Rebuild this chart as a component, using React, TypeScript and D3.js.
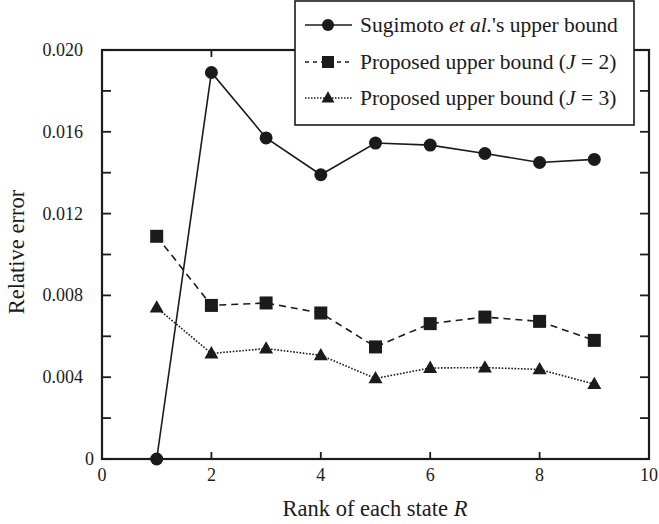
import React from 'react';
import * as d3 from 'd3';

const ranks = [1, 2, 3, 4, 5, 6, 7, 8, 9];
const sugimoto = [0, 0.0189, 0.0157, 0.0139, 0.01545, 0.01535, 0.01494, 0.0145, 0.01465];
const proposedJ2 = [0.01089, 0.00751, 0.00763, 0.00714, 0.00548, 0.00662, 0.00694, 0.00673, 0.0058];
const proposedJ3 = [0.0074, 0.00516, 0.0054, 0.00507, 0.00394, 0.00445, 0.00447, 0.00438, 0.00366];
const xTicks = [0, 2, 4, 6, 8, 10];
const yTicks = [0, 0.004, 0.008, 0.012, 0.016, 0.02];
const yMinorTicks = [0.002, 0.006, 0.01, 0.014, 0.018];

const W = 659;
const H = 524;
const left = 102;
const right = 649;
const top = 50;
const bottom = 459;
const ink = '#1c1a1b';
const font = "'Liberation Serif', 'Times New Roman', Times, 'DejaVu Serif', serif";

export default function App() {
  const x = d3.scaleLinear().domain([0, 10]).range([left, right]);
  const y = d3.scaleLinear().domain([0, 0.02]).range([bottom, top]);
  const line = d3
    .line<number>()
    .x((_, i) => x(ranks[i]))
    .y((d) => y(d));

  const tri = (cx: number, cy: number, s = 14) => {
    const h = s * 0.88;
    return `M${cx},${cy - h * 0.6} L${cx + s / 2},${cy + h * 0.4} L${cx - s / 2},${cy + h * 0.4} Z`;
  };

  const yAll = [...yTicks, ...yMinorTicks];
  const legendRows = [25, 62, 98];
  const txt = { fontFamily: font, fill: ink } as React.CSSProperties;

  return (
    <svg
      width={W}
      height={H}
      style={{ position: 'absolute', left: 0, top: 0, background: '#fff', fontFamily: font }}
    >
      <rect x={0} y={0} width={W} height={H} fill="#fff" />
      {/* series */}
      <path d={line(sugimoto) || ''} fill="none" stroke={ink} strokeWidth={1.6} />
      <path d={line(proposedJ2) || ''} fill="none" stroke={ink} strokeWidth={1.6} strokeDasharray="7,5" />
      <path d={line(proposedJ3) || ''} fill="none" stroke={ink} strokeWidth={1.6} strokeDasharray="1.6,1.6" />

      {/* frame */}
      <rect x={left} y={top} width={right - left} height={bottom - top} fill="none" stroke={ink} strokeWidth={2.2} />
      {yAll.map((t) => (
        <g key={'y' + t}>
          <line x1={left} x2={left + 9} y1={y(t)} y2={y(t)} stroke={ink} strokeWidth={1.8} />
          <line x1={right} x2={right - 9} y1={y(t)} y2={y(t)} stroke={ink} strokeWidth={1.8} />
        </g>
      ))}
      {xTicks.slice(1, -1).map((t) => (
        <g key={'x' + t}>
          <line x1={x(t)} x2={x(t)} y1={bottom} y2={bottom - 7} stroke={ink} strokeWidth={1.8} />
          <line x1={x(t)} x2={x(t)} y1={top} y2={top + 7} stroke={ink} strokeWidth={1.8} />
        </g>
      ))}
      {yTicks.map((t) => (
        <text
          key={'yl' + t}
          x={t === 0 ? left - 8 : left - 19}
          y={y(t) + 6}
          textAnchor="end"
          fontSize={18}
          style={txt}
        >
          {t === 0 ? '0' : t.toFixed(3)}
        </text>
      ))}
      {xTicks.map((t) => (
        <text key={'xl' + t} x={x(t)} y={481} textAnchor="middle" fontSize={18} style={txt}>
          {t}
        </text>
      ))}
      <text x={375} y={516} textAnchor="middle" fontSize={22.5} style={txt}>
        Rank of each state <tspan fontStyle="italic">R</tspan>
      </text>
      <text transform={`translate(24,252) rotate(-90)`} textAnchor="middle" fontSize={22.5} style={txt}>
        Relative error
      </text>

      {/* markers */}
      {sugimoto.map((v, i) => (
        <circle key={'c' + i} cx={x(ranks[i])} cy={y(v)} r={6.5} fill={ink} />
      ))}
      {proposedJ2.map((v, i) => (
        <rect key={'s' + i} x={x(ranks[i]) - 6.5} y={y(v) - 6.5} width={13} height={13} fill={ink} />
      ))}
      {proposedJ3.map((v, i) => (
        <path key={'t' + i} d={tri(x(ranks[i]), y(v))} fill={ink} />
      ))}

      {/* legend */}
      <rect x={295} y={1} width={339} height={124} fill="#fff" stroke={ink} strokeWidth={1.6} />
      <line x1={305} x2={352} y1={legendRows[0]} y2={legendRows[0]} stroke={ink} strokeWidth={1.6} />
      <circle cx={328} cy={legendRows[0]} r={6} fill={ink} />
      <line x1={305} x2={352} y1={legendRows[1]} y2={legendRows[1]} stroke={ink} strokeWidth={1.6} strokeDasharray="4,4" />
      <rect x={322} y={legendRows[1] - 6} width={12} height={12} fill={ink} />
      <line x1={305} x2={352} y1={legendRows[2]} y2={legendRows[2]} stroke={ink} strokeWidth={1.6} strokeDasharray="1.5,1.5" />
      <path d={tri(328, legendRows[2], 13)} fill={ink} />
      <text x={360} y={legendRows[0] + 7} fontSize={21.5} style={txt}>
        Sugimoto <tspan fontStyle="italic">et al.</tspan>'s upper bound
      </text>
      <text x={360} y={legendRows[1] + 7} fontSize={21.5} style={txt}>
        Proposed upper bound (<tspan fontStyle="italic">J</tspan> = 2)
      </text>
      <text x={360} y={legendRows[2] + 7} fontSize={21.5} style={txt}>
        Proposed upper bound (<tspan fontStyle="italic">J</tspan> = 3)
      </text>
    </svg>
  );
}
